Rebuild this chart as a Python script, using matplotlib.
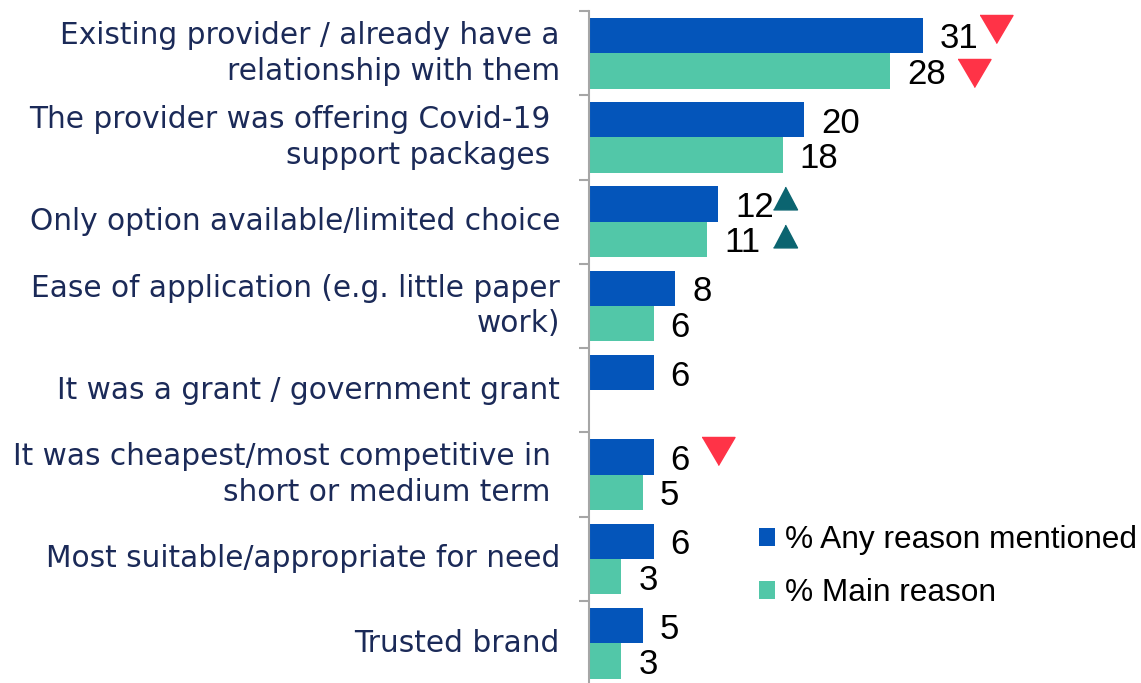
import numpy as np
import matplotlib
matplotlib.use("Agg")
import matplotlib.pyplot as plt
from matplotlib.transforms import offset_copy

# Reasons for choosing the finance provider (%)
categories = [
    "Existing provider / already have a\nrelationship with them",
    "The provider was offering Covid-19 \nsupport packages ",
    "Only option available/limited choice",
    "Ease of application (e.g. little paper\nwork)",
    "It was a grant / government grant",
    "It was cheapest/most competitive in \nshort or medium term ",
    "Most suitable/appropriate for need",
    "Trusted brand",
]
any_reason = [31, 20, 12, 8, 6, 6, 6, 5]
main_reason = [28, 18, 11, 6, np.nan, 5, 3, 3]
series_names = ["% Any reason mentioned", "% Main reason"]

# Significant differences: (category index, series index, direction)
sig_flags = [(0, 0, "down"), (0, 1, "down"), (2, 0, "up"), (2, 1, "up"), (5, 0, "down")]

# Styling
BLUE = "#0455BA"
TEAL = "#52C7A8"
RED = "#FF3347"
DARK_TEAL = "#0B6470"
NAVY = "#1B2A58"
GREY = "#A6A6A6"
PX = 72 / 100  # points per pixel at dpi 100

# marker placement (pixels right of bar end, pixels up from bar centre)
flag_offsets = [(73, 6), (84, -2.5), (67, 6), (78, 3), (64, 6)]

fig = plt.figure(figsize=(11.41, 6.83), dpi=100)
W, H = 1141, 683
ax_left, ax_top = 589, 11
band = 84.3
n = len(categories)
ax_h = band * n
ax = fig.add_axes([ax_left / W, (H - ax_top - ax_h) / H, (W - ax_left) / W, ax_h / H])

px_per_unit = 10.76
ax.set_xlim(0, (W - ax_left) / px_per_unit)
ax.set_ylim(n - 0.5, -0.5)

y = np.arange(n)
bh = 0.42
ax.barh(y - bh / 2, any_reason, height=bh, color=BLUE, label=series_names[0])
ax.barh(y + bh / 2, main_reason, height=bh, color=TEAL, label=series_names[1])

# value labels
for vals, off in ((any_reason, -bh / 2), (main_reason, bh / 2)):
    for i, v in enumerate(vals):
        if np.isnan(v):
            continue
        ax.annotate(f"{v:g}", xy=(v, i + off), xytext=(17 * PX, 0),
                    textcoords="offset points", ha="left", va="center_baseline",
                    fontsize=25, family="Liberation Sans", color="black")

# category labels
for i, c in enumerate(categories):
    ax.annotate(c, xy=(0, i), xycoords=("axes fraction", "data"),
                xytext=(-29 * PX, 0), textcoords="offset points",
                ha="right", va="center", multialignment="right",
                fontsize=21.3, family="DejaVu Sans", color=NAVY, linespacing=1.3)

# significance triangles
down_tri = [(-1, 0.85), (1, 0.85), (0, -0.85)]
up_tri = [(-1, -0.95), (1, -0.95), (0, 0.95)]
for (ci, si, d), (dx, dy) in zip(sig_flags, flag_offsets):
    vals = any_reason if si == 0 else main_reason
    yc = ci - bh / 2 if si == 0 else ci + bh / 2
    tr = offset_copy(ax.transData, fig=fig, x=dx, y=dy, units="dots")
    if d == "down":
        ax.plot([vals[ci]], [yc], marker=down_tri, markersize=33 * PX,
                color=RED, linestyle="none", transform=tr, clip_on=False)
    else:
        ax.plot([vals[ci]], [yc], marker=up_tri, markersize=24 * PX,
                color=DARK_TEAL, linestyle="none", transform=tr, clip_on=False)

# axis styling
for s in ("top", "right", "bottom"):
    ax.spines[s].set_visible(False)
ax.spines["left"].set_color(GREY)
ax.spines["left"].set_linewidth(1.5)
ax.set_yticks(np.arange(n + 1) - 0.5)
ax.set_yticklabels([])
ax.tick_params(axis="y", length=10 * PX, width=1.5, color=GREY, direction="out")
ax.set_xticks([])

leg = ax.legend(loc="upper left", bbox_to_anchor=(759 / W, 1 - 525 / H),
                bbox_transform=fig.transFigure, frameon=False,
                prop={"family": "Liberation Sans", "size": 22.8},
                handlelength=0.5, handleheight=0.5, handletextpad=0.32,
                borderpad=0, borderaxespad=0, labelspacing=0.74)

fig.savefig("out.png", dpi=100)
